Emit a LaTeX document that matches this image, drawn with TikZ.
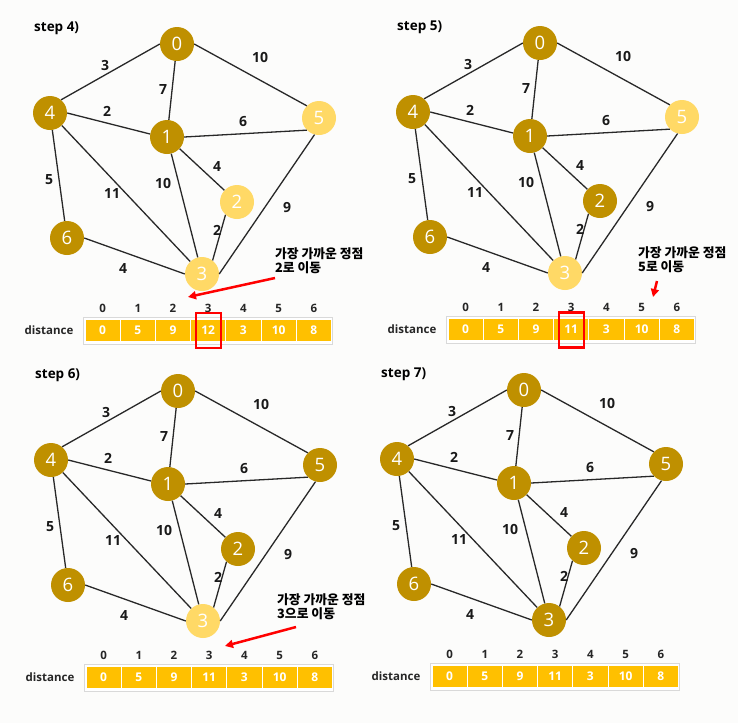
\documentclass[tikz,border=0pt]{standalone}
\usepackage{fontspec}
\setmainfont{Open Sans}
\newfontfamily\kr{Noto Sans CJK KR}
\usetikzlibrary{arrows.meta}

\definecolor{golddark}{RGB}{191,144,0}
\definecolor{goldlight}{RGB}{255,217,102}
\definecolor{cellgold}{RGB}{255,192,0}
\definecolor{edgegray}{RGB}{40,40,40}
\definecolor{paper}{RGB}{252,252,251}

% one step of the graph with its distance table
\newcommand{\dgraph}[2]{%
  \node[steplabel] (step) at (34,28) {#1};
  \node[vertex,v0] (n0) at (177,44) {0};
  \node[vertex,v1] (n1) at (167,137) {1};
  \node[vertex,v2] (n2) at (237,202) {2};
  \node[vertex,v3] (n3) at (202,274) {3};
  \node[vertex,v4] (n4) at (50,113) {4};
  \node[vertex,v5] (n5) at (319,118) {5};
  \node[vertex,v6] (n6) at (67,238) {6};
  \draw[link] (n4.50) -- (n0.west);
  \draw[link] (n0.east) -- (n5.135);
  \draw[link] (n0) -- (n1);
  \draw[link] (n4.east) -- (n1.170);
  \draw[link] (n1.east) -- (n5.225);
  \draw[link] (n1) -- (n2);
  \draw[link] (n4) -- (n6);
  \draw[link] (n4) -- (n3);
  \draw[link] (n1) -- (n3);
  \draw[link] (n5.255) -- (n3.east);
  \draw[link] (n2.228) -- (n3.52);
  \draw[link] (n6.east) -- (n3.west);
  \node[wlabel] (w40) at (105,65) {3};
  \node[wlabel] (w05) at (260,57) {10};
  \node[wlabel] (w01) at (163,90) {7};
  \node[wlabel] (w41) at (107,111) {2};
  \node[wlabel] (w15) at (243,122) {6};
  \node[wlabel] (w12) at (217,166) {4};
  \node[wlabel] (w46) at (49,180) {5};
  \node[wlabel] (w13) at (163,183) {10};
  \node[wlabel] (w43) at (112,193) {11};
  \node[wlabel] (w53) at (287,208) {9};
  \node[wlabel] (w23) at (217,230) {2};
  \node[wlabel] (w63) at (123,268) {4};
  % distance table
  \draw[tableframe] (83.5,317.5) rectangle (332.5,344);
  \node[rowlabel] (dist) at (49,330) {distance};
  \foreach \v [count=\i from 0] in {#2} {
    \node[idx] (i\i) at (102.6+35.2*\i,308) {\i};
    \node[distcell] (d\i) at (102.6+35.2*\i,330) {\v};
  }
}

\begin{document}
\begin{tikzpicture}[x=1pt,y=-1pt,
  vertex/.style={circle,minimum size=34pt,inner sep=0pt,fill=golddark,
    text=white,font=\fontsize{18.5}{18.5}\selectfont},
  fresh/.style={fill=goldlight},
  v0/.style={},v1/.style={},v2/.style={},v3/.style={},
  v4/.style={},v5/.style={},v6/.style={},
  link/.style={draw=edgegray,line width=1.3pt},
  wlabel/.style={font=\fontsize{14}{14}\selectfont\bfseries,text=black!90},
  steplabel/.style={font=\fontsize{13.5}{13.5}\selectfont\bfseries,anchor=west,inner sep=0pt},
  rowlabel/.style={font=\fontsize{11.5}{11.5}\selectfont\bfseries,text=black!85},
  idx/.style={font=\fontsize{11.5}{11.5}\selectfont\bfseries,text=black!85},
  distcell/.style={fill=cellgold,draw=white,line width=1pt,minimum width=35.2pt,
    minimum height=22pt,inner sep=0pt,text=white,font=\fontsize{12}{12}\selectfont\bfseries},
  tableframe/.style={draw=black!15,line width=0.8pt,fill=white},
  memo/.style={font=\kr\bfseries\fontsize{12.8}{14.5}\selectfont,align=left,
    anchor=north west,inner sep=0pt},
  pointer/.style={draw=red,line width=2.5pt,-{Triangle[length=8pt,width=8pt]}},
  redbox/.style={draw=red,line width=2.5pt,minimum width=25pt,minimum height=35pt}]

  \fill[paper] (0,0) rectangle (738,723);

  % step 4
  \begin{scope}[name prefix=s4-,v2/.style={fresh},v3/.style={fresh},v5/.style={fresh}]
    \dgraph{step 4)}{0,5,9,12,3,10,8}
    \node[redbox] (mark) at (208.5,330.5) {};
    \node[memo] (memo) at (275,247) {가장 가까운 정점\\2로 이동};
    \coordinate (tail) at (275,278);
    \coordinate (tip) at (188,297);
    \draw[pointer] (tail) -- (tip);
  \end{scope}

  % step 5
  \begin{scope}[shift={(363,-1)},name prefix=s5-,v3/.style={fresh},v5/.style={fresh}]
    \dgraph{step 5)}{0,5,9,11,3,10,8}
    \node[redbox] (mark) at (208.5,331) {};
    \node[memo] (memo) at (275,247) {가장 가까운 정점\\5로 이동};
    \coordinate (tail) at (294,282);
    \coordinate (tip) at (290,298);
    \draw[pointer] (tail) -- (tip);
  \end{scope}

  % step 6
  \begin{scope}[shift={(1,347)},name prefix=s6-,v3/.style={fresh}]
    \dgraph{step 6)}{0,5,9,11,3,10,8}
    \node[memo] (memo) at (276,246) {가장 가까운 정점\\3으로 이동};
    \coordinate (tail) at (295,280);
    \coordinate (tip) at (224,299);
    \draw[pointer] (tail) -- (tip);
  \end{scope}

  % step 7
  \begin{scope}[shift={(347,346)},name prefix=s7-]
    \dgraph{step 7)}{0,5,9,11,3,10,8}
  \end{scope}
\end{tikzpicture}
\end{document}
